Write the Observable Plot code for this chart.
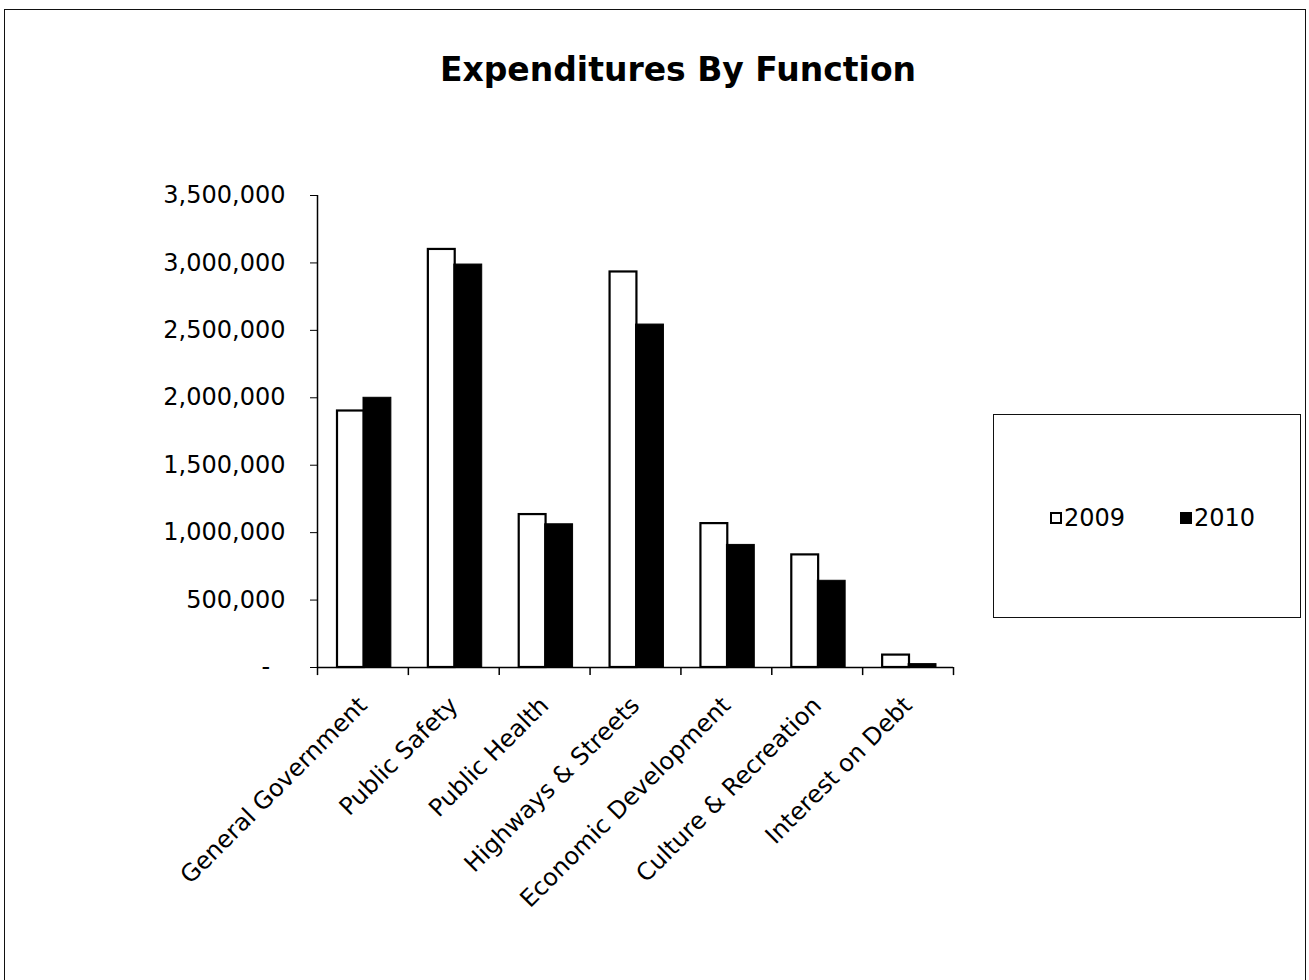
<!DOCTYPE html>
<html>
<head>
<meta charset="utf-8">
<script src="https://cdn.jsdelivr.net/npm/d3@7"></script>
<script src="https://cdn.jsdelivr.net/npm/@observablehq/plot@0.6"></script>
<style>
  html, body { margin: 0; padding: 0; background: #fff; overflow: hidden; }
  #page { position: relative; width: 1309px; height: 980px; font-family: "DejaVu Sans", Verdana, sans-serif; }
  #frame { position: absolute; left: 4px; top: 9px; width: 1302px; height: 990px; border: 1.5px solid #111; box-sizing: border-box; }
  #title { position: absolute; left: 0; width: 1356px; top: 50px; text-align: center; font-weight: bold; font-size: 33px; line-height: 40px; color: #000; }
  #chart { position: absolute; left: 0; top: 0; }
  #legend { position: absolute; left: 993px; top: 414px; width: 308px; height: 204px; border: 1.5px solid #111; box-sizing: border-box; }
  .item { position: absolute; top: 89px; font-size: 24px; line-height: 28px; color: #000; display: flex; align-items: center; }
  .sw { width: 12px; height: 12px; box-sizing: border-box; border: 2px solid #000; margin-right: 2px; }
</style>
</head>
<body>
<div id="page">
  <div id="frame"></div>
  <div id="title"></div>
  <div id="chart"></div>
  <div id="legend"></div>
</div>
<script>
const titleText = "Expenditures By Function";
const categories = ["General Government", "Public Safety", "Public Health", "Highways & Streets", "Economic Development", "Culture & Recreation", "Interest on Debt"];
const years = ["2009", "2010"];
const values2009 = [1902000, 3100000, 1134000, 2933000, 1067000, 835000, 92000];
const values2010 = [2000000, 2988000, 1062000, 2543000, 909000, 643000, 25000];
const yTicks = [0, 500000, 1000000, 1500000, 2000000, 2500000, 3000000, 3500000];
const yearFill = {"2009": "#ffffff", "2010": "#000000"};

document.getElementById("title").textContent = titleText;

const rows2009 = categories.map((c, i) => ({category: c, value: values2009[i]}));
const rows2010 = categories.map((c, i) => ({category: c, value: values2010[i]}));

const W = 1309, H = 980;
const mL = 317, mR = 356, mT = 195, mB = 313;
const band = (W - mL - mR) / categories.length;
const fmt = d3.format(",");

const chart = Plot.plot({
  width: W,
  height: H,
  marginLeft: mL,
  marginRight: mR,
  marginTop: mT,
  marginBottom: mB,
  style: {fontFamily: "DejaVu Sans, Verdana, sans-serif", fontSize: "24px", color: "#000", background: "transparent"},
  x: {domain: categories, padding: 0, round: false, axis: null},
  y: {domain: [0, 3500000], axis: null},
  marks: [
    Plot.barY(rows2009, {x: "category", y: "value", fill: yearFill["2009"], stroke: "#000", strokeWidth: 2.2, insetLeft: 20, insetRight: 44}),
    Plot.barY(rows2010, {x: "category", y: "value", fill: yearFill["2010"], stroke: "#000", strokeWidth: 1, insetLeft: 46, insetRight: 17}),
    // y axis line
    Plot.ruleX([categories[0]], {x: d => d, dx: -band / 2, y1: 0, y2: 3500000, stroke: "#000", strokeWidth: 1.5}),
    // x axis line
    Plot.ruleY([0], {stroke: "#000", strokeWidth: 1.5}),
    // category boundary ticks
    Plot.ruleX(categories, {x: d => d, dx: -band / 2, y1: 0, y2: -60000, stroke: "#000", strokeWidth: 1.5}),
    Plot.ruleX([categories[categories.length - 1]], {x: d => d, dx: band / 2, y1: 0, y2: -60000, stroke: "#000", strokeWidth: 1.5}),
    Plot.axisY({
      ticks: yTicks,
      tickSize: 7,
      tickPadding: 25,
      fontSize: 24,
      tickFormat: d => d === 0 ? "-\u00a0\u00a0" : fmt(d),
      label: null
    }),
    Plot.axisX({
      tickRotate: -45,
      tickSize: 0,
      tickPadding: 34,
      fontSize: 24,
      label: null
    })
  ]
});
document.getElementById("chart").appendChild(chart);

// legend
const legend = document.getElementById("legend");
const legendX = [56, 186];
years.forEach((yr, i) => {
  const item = document.createElement("div");
  item.className = "item";
  item.style.left = legendX[i] + "px";
  const sw = document.createElement("span");
  sw.className = "sw";
  sw.style.background = yearFill[yr];
  const t = document.createElement("span");
  t.textContent = yr;
  item.appendChild(sw);
  item.appendChild(t);
  legend.appendChild(item);
});
</script>
</body>
</html>
